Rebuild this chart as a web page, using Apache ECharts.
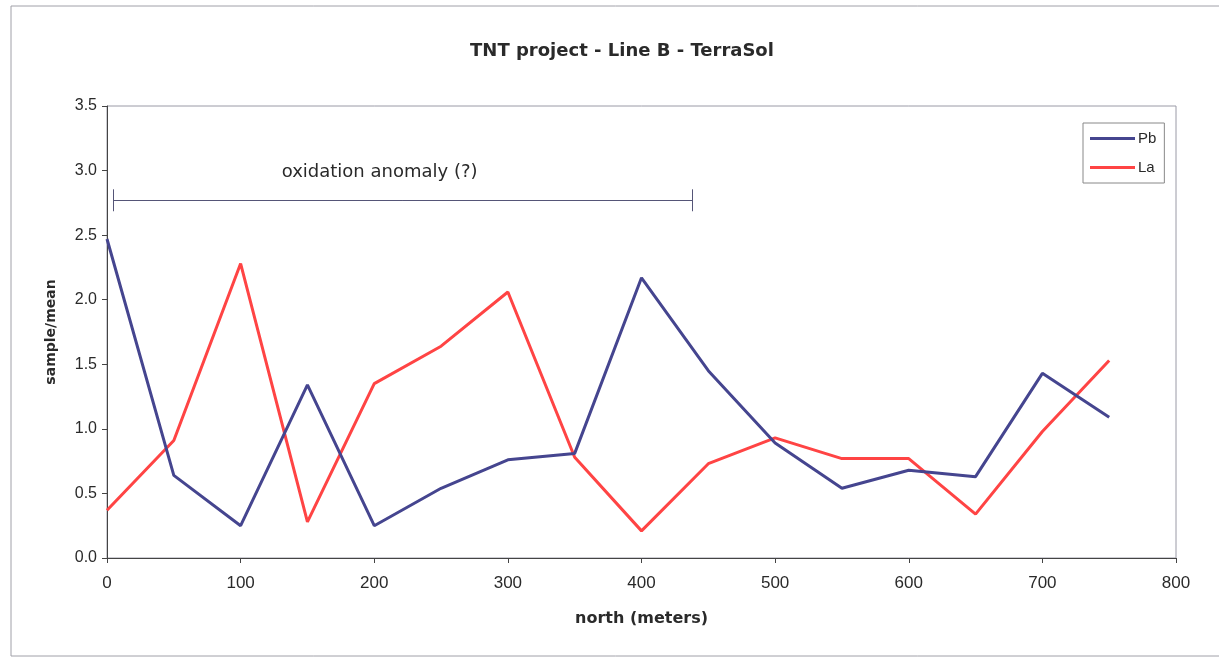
<!DOCTYPE html>
<html>
<head>
<meta charset="utf-8">
<script src="https://cdn.jsdelivr.net/npm/echarts@6/dist/echarts.min.js"></script>
<style>
html,body{margin:0;padding:0;background:#fff;}
#chart{width:1219px;height:659px;}
</style>
</head>
<body>
<div id="chart"></div>
<script>
const distances = [0, 50, 100, 150, 200, 250, 300, 350, 400, 450, 500, 550, 600, 650, 700, 750];
const pbValues = [2.47, 0.64, 0.25, 1.34, 0.25, 0.54, 0.76, 0.81, 2.17, 1.45, 0.89, 0.54, 0.68, 0.63, 1.43, 1.09];
const laValues = [0.37, 0.91, 2.28, 0.28, 1.35, 1.64, 2.06, 0.78, 0.21, 0.73, 0.93, 0.77, 0.77, 0.34, 0.98, 1.53];
const seriesNames = ['Pb', 'La'];
const annotationText = 'oxidation anomaly (?)';
const bracketX = [5, 438];
const bracketY = 2.77;
const bracketCap = 0.085;
const annotationTextPos = [204, 2.99];

const chart = echarts.init(document.getElementById('chart'));
const txt = '#2a2a2a';
const font = 'Liberation Sans, Arial, sans-serif';
const wide = 'DejaVu Sans, Liberation Sans, sans-serif';

function pairs(xs, ys) { return xs.map((x, i) => [x, ys[i]]); }

chart.setOption({
  animation: false,
  backgroundColor: '#fff',
  textStyle: {fontFamily: font},
  title: {
    text: 'TNT project - Line B - TerraSol',
    left: 617, top: 37, textAlign: 'center',
    textStyle: {fontFamily: wide, fontSize: 18, fontWeight: 'bold', color: txt}
  },
  graphic: [{
    type: 'rect', shape: {x: 11, y: 6, width: 1240, height: 650},
    style: {fill: 'none', stroke: '#a0a0a8', lineWidth: 1}, silent: true, z: -1
  }],
  legend: {
    left: 1083, top: 123,
    orient: 'vertical',
    itemWidth: 45, itemHeight: 3, itemGap: 14,
    padding: [8, 8, 8, 7],
    borderColor: '#888', borderWidth: 1,
    icon: 'rect',
    textStyle: {fontFamily: font, fontSize: 15, color: txt, padding: [0, 0, 0, -2]},
    data: seriesNames
  },
  grid: {left: 107, right: 43, top: 106, bottom: 101, show: true, borderColor: '#9a9aa6', borderWidth: 1, backgroundColor: 'transparent'},
  xAxis: {
    type: 'value', min: 0, max: 800, interval: 100,
    name: 'north (meters)', nameLocation: 'middle', nameGap: 53,
    nameTextStyle: {fontFamily: wide, fontSize: 16, fontWeight: 'bold', color: txt},
    axisLine: {onZero: false, lineStyle: {color: '#444', width: 1}},
    axisTick: {show: true, inside: false, length: 5, lineStyle: {color: '#444'}},
    axisLabel: {fontFamily: font, fontSize: 17, color: txt, margin: 17},
    splitLine: {show: false}
  },
  yAxis: {
    type: 'value', min: 0, max: 3.5, interval: 0.5,
    name: 'sample/mean', nameLocation: 'middle', nameGap: 49,
    nameTextStyle: {fontFamily: wide, fontSize: 14, fontWeight: 'bold', color: txt},
    axisLine: {show: true, lineStyle: {color: '#444', width: 1}},
    axisTick: {show: true, inside: false, length: 5, lineStyle: {color: '#444'}},
    axisLabel: {fontFamily: font, fontSize: 16, color: txt, margin: 10, formatter: v => v.toFixed(1)},
    splitLine: {show: false}
  },
  series: [
    {
      name: seriesNames[0], type: 'line', data: pairs(distances, pbValues),
      showSymbol: false, symbol: 'none',
      lineStyle: {color: '#45458f', width: 3},
      itemStyle: {color: '#45458f'},
      z: 3,
      markLine: {
        silent: true, symbol: ['none', 'none'],
        label: {show: false},
        lineStyle: {color: '#555577', width: 1, type: 'solid'},
        data: [
          [{coord: [bracketX[0], bracketY]}, {coord: [bracketX[1], bracketY]}],
          [{coord: [bracketX[0], bracketY - bracketCap]}, {coord: [bracketX[0], bracketY + bracketCap]}],
          [{coord: [bracketX[1], bracketY - bracketCap]}, {coord: [bracketX[1], bracketY + bracketCap]}]
        ]
      },
      markPoint: {
        silent: true, symbol: 'circle', symbolSize: 1,
        itemStyle: {color: 'rgba(0,0,0,0)'},
        label: {show: true, position: 'inside', formatter: annotationText, fontFamily: wide, fontSize: 18, color: txt},
        data: [{coord: annotationTextPos}]
      }
    },
    {
      name: seriesNames[1], type: 'line', data: pairs(distances, laValues),
      showSymbol: false, symbol: 'none',
      lineStyle: {color: '#ff4444', width: 3},
      itemStyle: {color: '#ff4444'},
      z: 2
    }
  ]
});
</script>
</body>
</html>
